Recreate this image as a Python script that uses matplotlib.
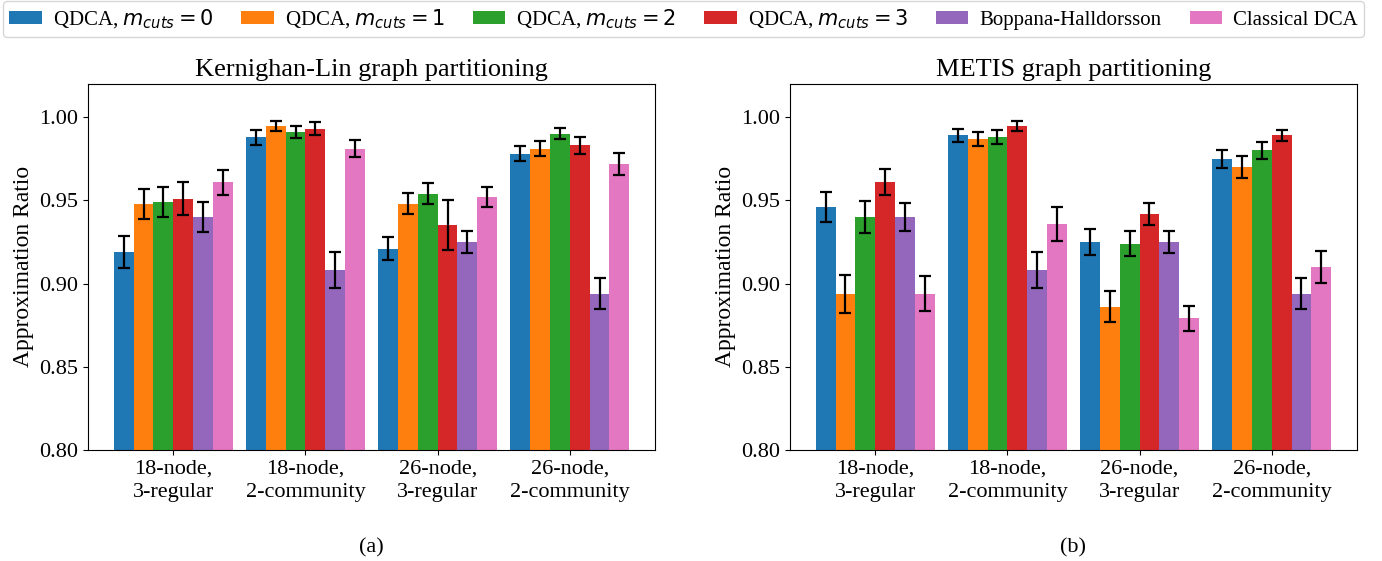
import numpy as np
import matplotlib
matplotlib.use("Agg")
from matplotlib import pyplot as plt

plt.rcParams['font.family'] = ['Liberation Serif', 'DejaVu Serif']
plt.rcParams['mathtext.fontset'] = 'dejavusans'

#-----data-----#
groups = ["18-node,\n3-regular", "18-node,\n2-community",
          "26-node,\n3-regular", "26-node,\n2-community"]
methods = [r"QDCA, $m_{cuts} = 0$", r"QDCA, $m_{cuts} = 1$",
           r"QDCA, $m_{cuts} = 2$", r"QDCA, $m_{cuts} = 3$",
           "Boppana-Halldorsson", "Classical DCA"]
colors = ["#1f77b4", "#ff7f0e", "#2ca02c", "#d62728", "#9467bd", "#e377c2"]

# Kernighan-Lin, one row per method, one column per graph group
kl_mean = [[0.919, 0.988, 0.921, 0.978],
           [0.948, 0.995, 0.948, 0.981],
           [0.949, 0.991, 0.954, 0.990],
           [0.951, 0.993, 0.935, 0.983],
           [0.940, 0.908, 0.925, 0.894],
           [0.961, 0.981, 0.952, 0.972]]
kl_err = [[0.0095, 0.0045, 0.0067, 0.0045],
          [0.0090, 0.0030, 0.0064, 0.0044],
          [0.0090, 0.0037, 0.0063, 0.0033],
          [0.0100, 0.0040, 0.0150, 0.0050],
          [0.0088, 0.0108, 0.0065, 0.0092],
          [0.0075, 0.0050, 0.0060, 0.0066]]

# METIS
me_mean = [[0.946, 0.989, 0.925, 0.975],
           [0.894, 0.987, 0.886, 0.970],
           [0.940, 0.988, 0.924, 0.980],
           [0.961, 0.995, 0.942, 0.989],
           [0.940, 0.908, 0.925, 0.894],
           [0.894, 0.936, 0.879, 0.910]]
me_err = [[0.0092, 0.0040, 0.0076, 0.0053],
          [0.0114, 0.0044, 0.0093, 0.0064],
          [0.0096, 0.0043, 0.0076, 0.0050],
          [0.0080, 0.0030, 0.0067, 0.0035],
          [0.0087, 0.0108, 0.0065, 0.0092],
          [0.0106, 0.0102, 0.0076, 0.0096]]

fig = plt.figure(figsize=(13.82, 5.61), dpi=100)
ax1 = fig.add_axes([0.0637, 0.198, 0.4103, 0.6524])
ax2 = fig.add_axes([0.5716, 0.198, 0.4103, 0.6524])

x = np.arange(len(groups))
w = 0.15

def draw(ax, mean, err, title):
    for i in range(len(methods)):
        ax.bar(x + (i - 2.5) * w, mean[i], w, yerr=err[i], color=colors[i],
               label=methods[i], capsize=4,
               error_kw=dict(elinewidth=1.6, capthick=1.6, ecolor='black'))
    ax.set_ylim(0.80, 1.02)
    ax.set_yticks([0.80, 0.85, 0.90, 0.95, 1.00])
    ax.set_yticklabels(["0.80", "0.85", "0.90", "0.95", "1.00"])
    ax.set_xticks(x)
    ax.set_xticklabels(groups, linespacing=1.3)
    ax.tick_params(labelsize=16)
    ax.set_ylabel("Approximation Ratio", fontsize=17)
    ax.set_title(title, fontsize=19, pad=6)

draw(ax1, kl_mean, kl_err, "Kernighan-Lin graph partitioning")
draw(ax2, me_mean, me_err, "METIS graph partitioning")

h, l = ax1.get_legend_handles_labels()
fig.legend(h, l, loc='upper center', bbox_to_anchor=(0.4946, 0.998), ncol=6,
           fontsize=15, columnspacing=1.35, handletextpad=0.53,
           handlelength=1.55, handleheight=0.55, borderpad=0.3,
           borderaxespad=0.0)

fig.text(0.0637 + 0.4103 / 2, 0.015, "(a)", ha='center', fontsize=16)
fig.text(0.5716 + 0.4103 / 2, 0.015, "(b)", ha='center', fontsize=16)

fig.savefig("out.png", dpi=100)
